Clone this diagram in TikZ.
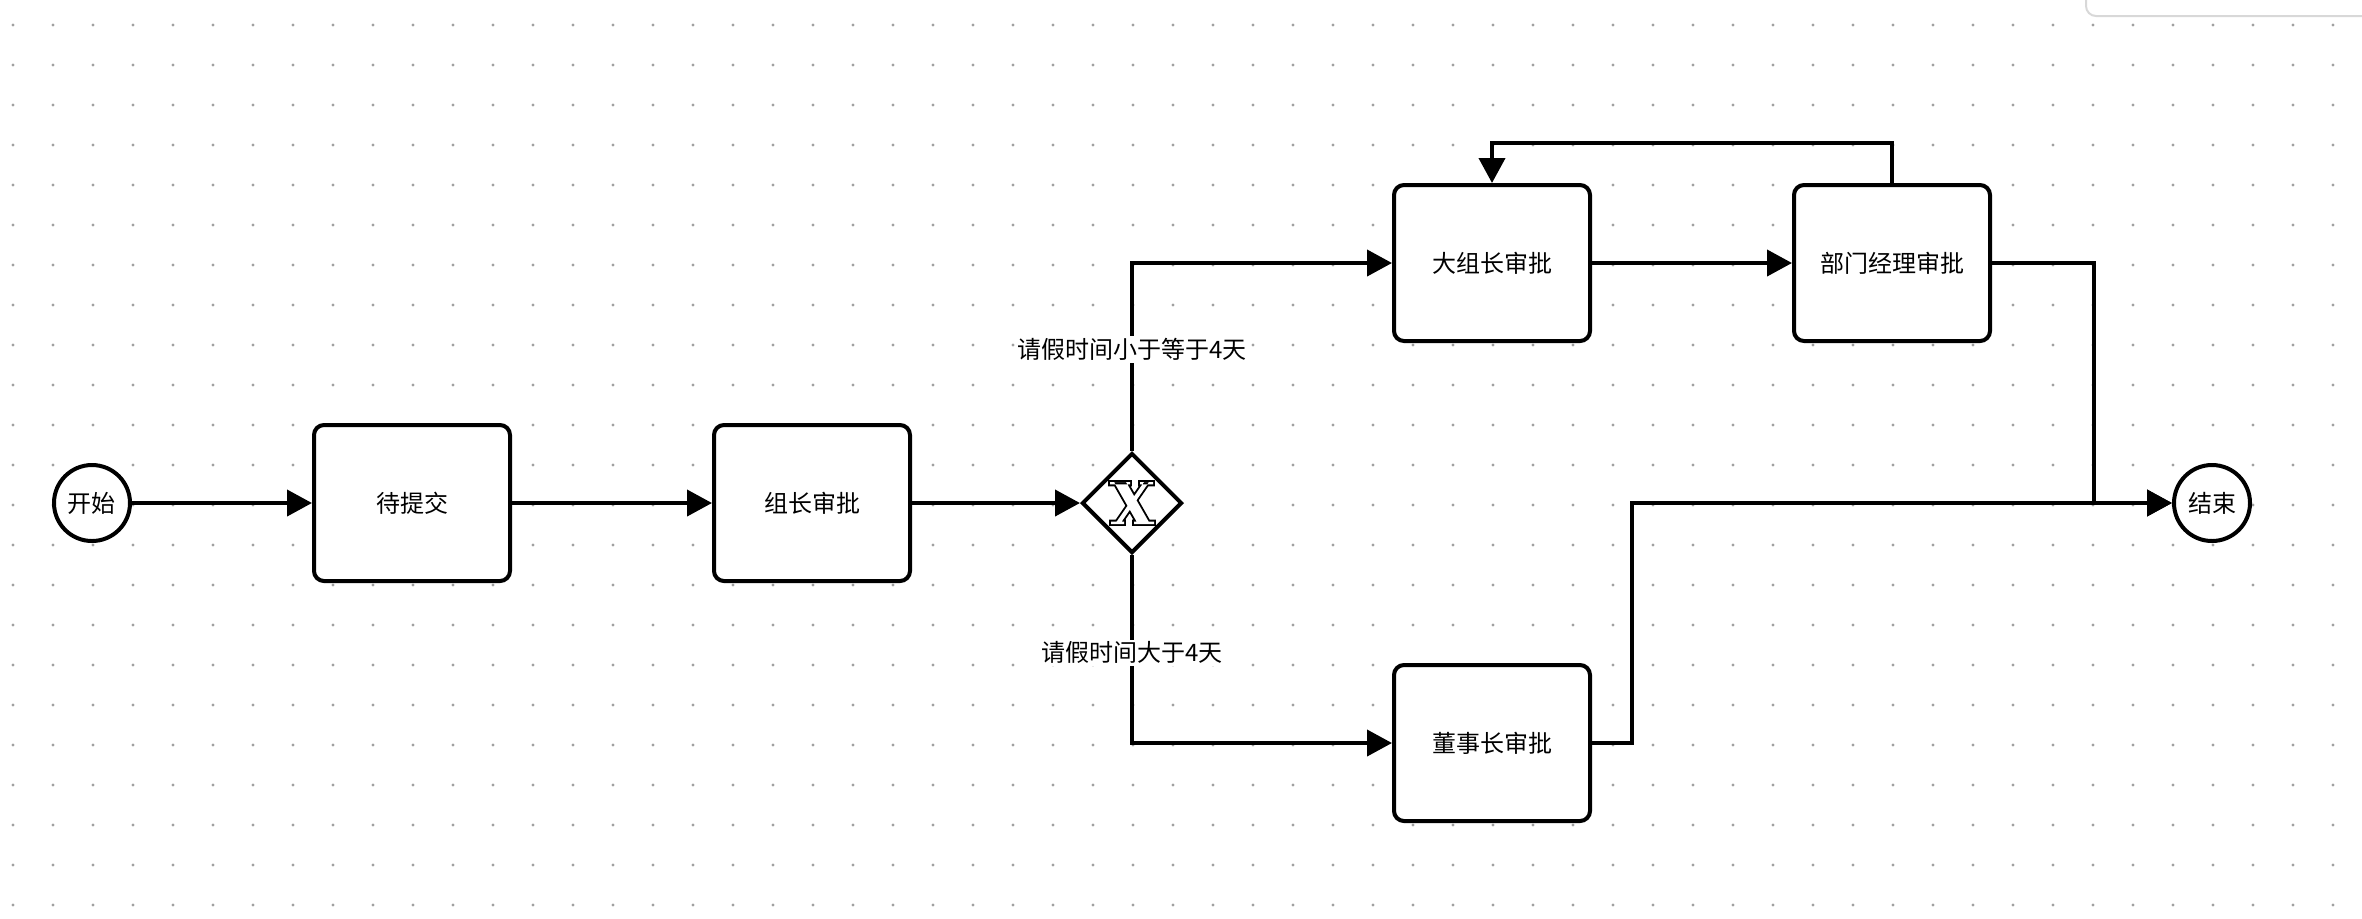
\documentclass[tikz,border=0pt]{standalone}
\usepackage{fontspec}
\newfontfamily\cjk{Noto Sans CJK SC}
\usetikzlibrary{shapes.geometric, positioning, arrows.meta}
\definecolor{griddot}{HTML}{A0A0A0}
\definecolor{panelline}{HTML}{D8D8D8}
\tikzset{>={Triangle[length=12.5pt,width=13pt]},
         node distance=160pt,
         on grid,
         every node/.style={font=\cjk\fontsize{12}{14}\selectfont},
         event/.style={circle, draw, line width=2pt, fill=white, minimum size=38pt, inner sep=0pt},
         task/.style={rectangle, rounded corners=5pt, draw, line width=2pt, fill=white,
                      minimum width=98pt, minimum height=78pt},
         gateway/.style={diamond, draw, line width=2pt, fill=white, minimum size=50pt, inner sep=0pt},
         flow/.style={->, line width=2pt},
         cond/.style={fill=white, inner sep=1pt},
         }

\begin{document}
\begin{tikzpicture}
    \fill[white] (0,0) rectangle (1181pt,-459pt);
    \useasboundingbox (0,0) rectangle (1181pt,-459pt);
    % dotted canvas
    \foreach \i in {0,...,58}
        \foreach \j in {0,...,22}
            \fill[griddot] (6.5pt+20pt*\i, -12.5pt-20pt*\j) circle (0.8pt);
    \draw[panelline, fill=white, rounded corners=5pt, line width=1pt] (1043pt,6pt) rectangle (1190pt,-8pt);

    \node[event] (start) at (46pt,-251.5pt) {开始};
    \node[task, right=of start] (submit) {待提交};
    \node[task, right=200pt of submit] (lead) {组长审批};
    \node[gateway, right=of lead] (gate) {};
    \node[task, above right=120pt and 180pt of gate] (big) {大组长审批};
    \node[task, right=200pt of big] (dept) {部门经理审批};
    \node[task, below right=120pt and 180pt of gate] (board) {董事长审批};
    \node[event, below right=120pt and 160pt of dept] (stop) {结束};

    % exclusive mark (outlined X)
    \begin{scope}[shift={(gate.center)}]
        \def\xmark{(-9,10.5) -- (-3,10.5) -- (9,-10.5) -- (3,-10.5) -- cycle
                   (6,10.5) -- (8.5,10.5) -- (-6,-10.5) -- (-8.5,-10.5) -- cycle
                   (-11,10.5) rectangle (-1,9.3) (4,10.5) rectangle (10.5,9.3)
                   (-10.5,-10.5) rectangle (-4,-9.3) (1,-10.5) rectangle (11,-9.3)}
        \begin{scope}[x=1pt, y=1pt]
            \draw[line width=1.9pt, line join=miter] \xmark;
            \fill[white] \xmark;
        \end{scope}
    \end{scope}

    \draw[flow] (start) -- (submit);
    \draw[flow] (submit) -- (lead);
    \draw[flow] (lead) -- (gate);
    \draw[flow] (gate.north) |- node[cond, pos=0.27] {请假时间小于等于4天} (big);
    \draw[flow] (big) -- (dept);
    \draw[flow] (dept.north) -- ++(0,20pt) -| (big.north);
    \draw[flow] (gate.south) |- node[cond, pos=0.26] {请假时间大于4天} (board);
    \draw[flow] (board.east) -- ++(20pt,0) |- (stop);
    \draw[flow] (dept.east) -- ++(51pt,0) |- (stop);
\end{tikzpicture}
\end{document}
